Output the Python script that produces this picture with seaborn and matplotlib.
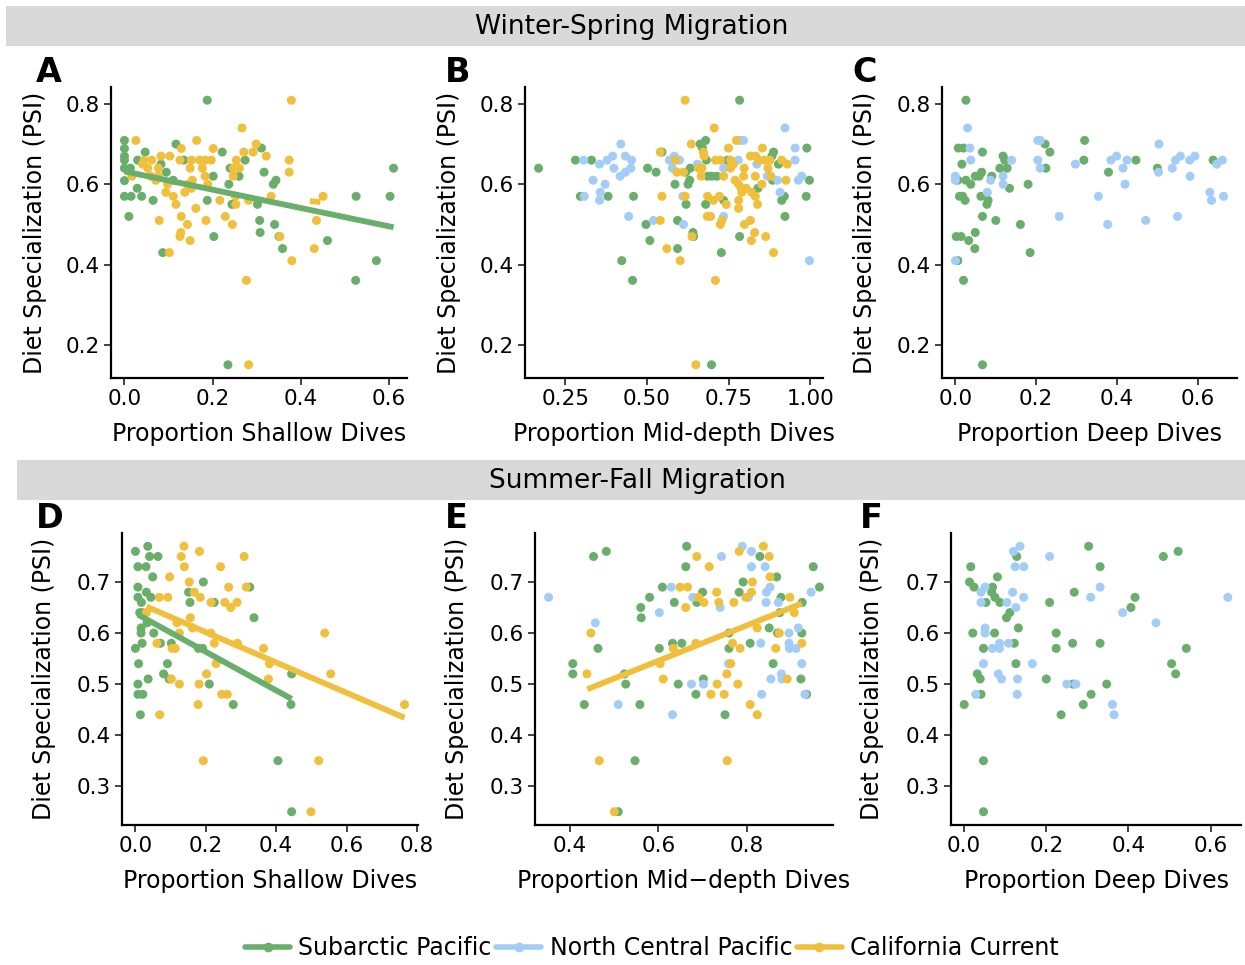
import numpy as np
import pandas as pd
import matplotlib
matplotlib.use("Agg")
import matplotlib.pyplot as plt
from matplotlib.lines import Line2D
from matplotlib.patches import Rectangle
import seaborn as sns

# ---------------- data (x = proportion of dives, y = PSI) ----------------
regions = ["Subarctic Pacific", "North Central Pacific", "California Current"]
colors = ["#6aae6b", "#a3cdf6", "#f0bf3c"]

A_sub = np.array([(0.188,0.809),(0,0.709),(0,0.689),(0,0.670),(0,0.660),(0,0.640),(0.0135,0.640),(0,0.609),(0,0.570),(0.015,0.570),(0.01,0.52),(0.029,0.59),(0.039,0.57),(0.03,0.66),(0.047,0.68),(0.065,0.56),(0.083,0.65),(0.095,0.63),(0.087,0.43),(0.111,0.61),(0.117,0.70),(0.135,0.66),(0.188,0.56),(0.2015,0.62),(0.203,0.47),(0.222,0.68),(0.235,0.151),(0.237,0.60),(0.24,0.64),(0.244,0.55),(0.26,0.62),(0.274,0.66),(0.302,0.55),(0.307,0.51),(0.308,0.48),(0.311,0.69),(0.317,0.63),(0.338,0.60),(0.344,0.61),(0.341,0.50),(0.351,0.47),(0.359,0.44),(0.461,0.46),(0.526,0.57),(0.525,0.361),(0.572,0.41),(0.603,0.57),(0.611,0.64)])
A_cal = np.array([(0.379,0.809),(0.026,0.709),(0.267,0.74),(0.164,0.709),(0.129,0.689),(0.299,0.70),(0.2015,0.689),(0.271,0.68),(0.292,0.68),(0.322,0.67),(0.103,0.67),(0.083,0.67),(0.045,0.66),(0.062,0.66),(0.126,0.66),(0.152,0.66),(0.171,0.66),(0.184,0.66),(0.197,0.66),(0.254,0.66),(0.374,0.66),(0.041,0.65),(0.053,0.64),(0.077,0.64),(0.149,0.64),(0.177,0.64),(0.247,0.64),(0.261,0.64),(0.374,0.63),(0.06,0.62),(0.077,0.62),(0.183,0.62),(0.247,0.62),(0.017,0.62),(0.071,0.61),(0.154,0.61),(0.098,0.60),(0.144,0.60),(0.189,0.60),(0.152,0.59),(0.094,0.58),(0.137,0.58),(0.111,0.57),(0.252,0.57),(0.333,0.57),(0.451,0.57),(0.2165,0.56),(0.282,0.56),(0.117,0.55),(0.162,0.54),(0.253,0.55),(0.129,0.52),(0.229,0.52),(0.079,0.51),(0.185,0.51),(0.436,0.51),(0.143,0.50),(0.245,0.50),(0.128,0.48),(0.126,0.47),(0.149,0.46),(0.353,0.47),(0.102,0.43),(0.431,0.44),(0.380,0.41),(0.277,0.361),(0.282,0.151)])

B_sub = np.array([(0.784,0.809),(0.168,0.64),(0.281,0.66),(0.33,0.66),(0.296,0.57),(0.381,0.57),(0.459,0.57),(0.502,0.64),(0.528,0.63),(0.546,0.68),(0.497,0.50),(0.509,0.46),(0.423,0.41),(0.456,0.361),(0.586,0.60),(0.594,0.51),(0.594,0.44),(0.62,0.55),(0.619,0.63),(0.633,0.64),(0.626,0.60),(0.631,0.61),(0.641,0.48),(0.643,0.47),(0.663,0.70),(0.68,0.709),(0.67,0.69),(0.682,0.66),(0.686,0.62),(0.699,0.62),(0.714,0.62),(0.68,0.55),(0.698,0.151),(0.735,0.56),(0.728,0.43),(0.747,0.66),(0.784,0.47),(0.84,0.59),(0.883,0.67),(0.888,0.68),(0.903,0.65),(0.885,0.61),(0.913,0.56),(0.921,0.57),(0.923,0.52),(0.99,0.69),(0.988,0.57),(0.998,0.61)])
B_nc = np.array([(0.306,0.66),(0.308,0.57),(0.335,0.61),(0.355,0.65),(0.357,0.58),(0.355,0.56),(0.372,0.60),(0.378,0.66),(0.395,0.67),(0.399,0.64),(0.42,0.70),(0.418,0.62),(0.434,0.67),(0.434,0.63),(0.451,0.64),(0.453,0.66),(0.444,0.52),(0.52,0.51),(0.569,0.66),(0.584,0.67),(0.578,0.64),(0.6,0.66),(0.61,0.57),(0.612,0.50),(0.655,0.65),(0.735,0.64),(0.735,0.52),(0.78,0.66),(0.784,0.709),(0.796,0.709),(0.837,0.65),(0.869,0.62),(0.908,0.58),(0.923,0.74),(0.954,0.69),(0.954,0.66),(0.964,0.61),(0.974,0.62),(0.998,0.41),(0.9,0.61)])
B_cal = np.array([(0.617,0.809),(0.706,0.74),(0.636,0.70),(0.541,0.68),(0.673,0.68),(0.675,0.67),(0.587,0.66),(0.71,0.66),(0.725,0.66),(0.756,0.66),(0.765,0.65),(0.75,0.69),(0.774,0.709),(0.817,0.67),(0.833,0.67),(0.842,0.66),(0.86,0.66),(0.854,0.69),(0.877,0.66),(0.913,0.66),(0.93,0.65),(0.592,0.63),(0.612,0.63),(0.658,0.64),(0.669,0.64),(0.756,0.64),(0.798,0.64),(0.871,0.64),(0.666,0.62),(0.735,0.62),(0.796,0.62),(0.832,0.62),(0.88,0.62),(0.77,0.61),(0.781,0.60),(0.789,0.59),(0.804,0.59),(0.852,0.60),(0.926,0.61),(0.821,0.58),(0.832,0.57),(0.791,0.58),(0.546,0.57),(0.617,0.57),(0.686,0.57),(0.704,0.56),(0.722,0.57),(0.781,0.56),(0.743,0.55),(0.781,0.54),(0.839,0.55),(0.685,0.52),(0.695,0.52),(0.541,0.51),(0.73,0.51),(0.725,0.50),(0.817,0.51),(0.799,0.50),(0.83,0.48),(0.82,0.46),(0.864,0.47),(0.638,0.47),(0.561,0.44),(0.602,0.41),(0.888,0.43),(0.71,0.361),(0.65,0.151)])

C_sub = np.array([(0.026,0.809),(0.007,0.69),(0.02,0.69),(0.016,0.65),(0.006,0.61),(0.026,0.61),(0.038,0.60),(0.01,0.57),(0.018,0.57),(0.024,0.56),(0.002,0.47),(0.014,0.47),(0.006,0.41),(0.033,0.46),(0.02,0.361),(0.049,0.48),(0.048,0.44),(0.049,0.62),(0.059,0.62),(0.065,0.63),(0.067,0.68),(0.063,0.57),(0.081,0.56),(0.078,0.55),(0.067,0.52),(0.09,0.62),(0.1,0.51),(0.067,0.151),(0.11,0.64),(0.118,0.67),(0.122,0.66),(0.128,0.64),(0.134,0.59),(0.161,0.50),(0.18,0.60),(0.185,0.43),(0.222,0.70),(0.234,0.68),(0.224,0.64),(0.32,0.709),(0.318,0.66),(0.379,0.63),(0.447,0.66),(0.5,0.64),(0.638,0.66)])
C_nc = np.array([(0.03,0.74),(0.036,0.69),(0.038,0.66),(0,0.62),(0,0.61),(0,0.41),(0.079,0.58),(0.087,0.61),(0.118,0.62),(0.118,0.60),(0.139,0.66),(0.204,0.709),(0.21,0.709),(0.204,0.66),(0.21,0.64),(0.257,0.52),(0.297,0.65),(0.354,0.57),(0.377,0.50),(0.385,0.66),(0.399,0.67),(0.415,0.64),(0.42,0.60),(0.425,0.66),(0.471,0.51),(0.504,0.70),(0.503,0.63),(0.537,0.64),(0.545,0.66),(0.557,0.67),(0.55,0.52),(0.58,0.66),(0.593,0.67),(0.581,0.62),(0.63,0.58),(0.634,0.56),(0.647,0.65),(0.661,0.66),(0.664,0.57)])

D_sub = np.array([(0,0.76),(0.035,0.77),(0.04,0.75),(0.064,0.75),(0.007,0.73),(0.03,0.73),(0.049,0.71),(0.007,0.69),(0.007,0.67),(0.017,0.66),(0.031,0.68),(0.044,0.67),(0.012,0.64),(0.019,0.64),(0.016,0.61),(0.016,0.60),(0.033,0.62),(0.052,0.60),(0.019,0.58),(0,0.57),(0.071,0.58),(0.102,0.58),(0.009,0.54),(0.036,0.51),(0.007,0.50),(0.007,0.48),(0.021,0.48),(0.014,0.44),(0.08,0.52),(0.091,0.54),(0.096,0.51),(0.151,0.68),(0.155,0.66),(0.193,0.70),(0.179,0.57),(0.191,0.57),(0.21,0.50),(0.224,0.66),(0.278,0.46),(0.325,0.69),(0.337,0.63),(0.444,0.52),(0.442,0.46),(0.405,0.35),(0.444,0.25)])
D_cal = np.array([(0.138,0.77),(0.13,0.75),(0.139,0.73),(0.182,0.76),(0.242,0.73),(0.309,0.75),(0.097,0.71),(0.153,0.70),(0.068,0.67),(0.092,0.67),(0.167,0.68),(0.184,0.67),(0.215,0.66),(0.254,0.66),(0.289,0.66),(0.271,0.65),(0.265,0.69),(0.315,0.69),(0.031,0.64),(0.156,0.63),(0.118,0.62),(0.162,0.61),(0.125,0.60),(0.214,0.60),(0.061,0.58),(0.224,0.58),(0.29,0.58),(0.104,0.57),(0.113,0.57),(0.364,0.57),(0.229,0.54),(0.381,0.54),(0.538,0.60),(0.555,0.52),(0.378,0.51),(0.102,0.51),(0.202,0.52),(0.125,0.50),(0.181,0.50),(0.245,0.48),(0.261,0.48),(0.178,0.46),(0.069,0.44),(0.765,0.46),(0.193,0.35),(0.521,0.35),(0.499,0.25)])

E_sub = np.array([(0.453,0.75),(0.482,0.76),(0.406,0.54),(0.406,0.52),(0.432,0.46),(0.463,0.57),(0.523,0.52),(0.526,0.50),(0.558,0.46),(0.56,0.65),(0.561,0.63),(0.58,0.67),(0.547,0.35),(0.509,0.25),(0.602,0.57),(0.609,0.69),(0.636,0.66),(0.632,0.58),(0.653,0.58),(0.645,0.50),(0.662,0.73),(0.664,0.77),(0.687,0.66),(0.70,0.68),(0.702,0.51),(0.685,0.48),(0.751,0.44),(0.76,0.57),(0.76,0.60),(0.783,0.68),(0.792,0.70),(0.808,0.58),(0.83,0.75),(0.851,0.61),(0.868,0.71),(0.87,0.60),(0.86,0.54),(0.878,0.67),(0.875,0.64),(0.926,0.66),(0.925,0.60),(0.923,0.51),(0.936,0.48),(0.951,0.73),(0.965,0.69)])
E_nc = np.array([(0.351,0.67),(0.457,0.62),(0.509,0.46),(0.602,0.64),(0.629,0.69),(0.632,0.44),(0.675,0.50),(0.678,0.67),(0.702,0.50),(0.74,0.65),(0.743,0.75),(0.759,0.54),(0.79,0.77),(0.804,0.67),(0.811,0.76),(0.811,0.73),(0.832,0.58),(0.834,0.48),(0.842,0.73),(0.844,0.66),(0.845,0.68),(0.853,0.69),(0.855,0.51),(0.872,0.66),(0.879,0.52),(0.88,0.51),(0.896,0.60),(0.896,0.58),(0.897,0.57),(0.912,0.57),(0.917,0.61),(0.925,0.54),(0.932,0.48),(0.946,0.68)])
E_cal = np.array([(0.438,0.52),(0.447,0.60),(0.466,0.35),(0.50,0.25),(0.604,0.54),(0.611,0.51),(0.634,0.57),(0.649,0.69),(0.666,0.69),(0.662,0.65),(0.687,0.75),(0.715,0.73),(0.685,0.58),(0.691,0.67),(0.703,0.66),(0.719,0.48),(0.732,0.68),(0.733,0.50),(0.737,0.66),(0.749,0.48),(0.755,0.52),(0.756,0.35),(0.764,0.54),(0.768,0.58),(0.771,0.66),(0.78,0.50),(0.785,0.57),(0.783,0.76),(0.798,0.67),(0.811,0.68),(0.813,0.70),(0.808,0.46),(0.824,0.44),(0.824,0.61),(0.838,0.77),(0.851,0.75),(0.853,0.71),(0.866,0.57),(0.874,0.60),(0.892,0.51),(0.898,0.67),(0.908,0.64),(0.925,0.58)])

F_sub = np.array([(0,0.46),(0.016,0.73),(0.013,0.70),(0.024,0.69),(0.021,0.60),(0.047,0.57),(0.032,0.52),(0.039,0.51),(0.041,0.48),(0.047,0.35),(0.047,0.25),(0.053,0.66),(0.069,0.69),(0.067,0.68),(0.075,0.67),(0.087,0.66),(0.081,0.71),(0.074,0.60),(0.103,0.63),(0.111,0.64),(0.122,0.58),(0.126,0.54),(0.128,0.75),(0.132,0.61),(0.2,0.51),(0.208,0.66),(0.224,0.60),(0.224,0.57),(0.236,0.44),(0.264,0.58),(0.265,0.50),(0.268,0.68),(0.29,0.46),(0.303,0.77),(0.309,0.48),(0.331,0.73),(0.331,0.58),(0.347,0.50),(0.406,0.65),(0.416,0.67),(0.485,0.75),(0.505,0.54),(0.515,0.52),(0.521,0.76),(0.541,0.57)])
F_nc = np.array([(0.028,0.48),(0.041,0.68),(0.041,0.66),(0.051,0.69),(0.051,0.61),(0.051,0.60),(0.047,0.54),(0.069,0.57),(0.086,0.58),(0.086,0.57),(0.083,0.52),(0.091,0.51),(0.104,0.66),(0.108,0.58),(0.118,0.68),(0.12,0.76),(0.124,0.73),(0.126,0.65),(0.13,0.51),(0.129,0.48),(0.136,0.77),(0.145,0.73),(0.145,0.67),(0.166,0.54),(0.208,0.75),(0.25,0.50),(0.272,0.50),(0.308,0.67),(0.331,0.69),(0.361,0.46),(0.365,0.44),(0.386,0.64),(0.467,0.62),(0.642,0.67)])

# fitted lines: (panel, region index, x_start, x_end, y_start, y_end)
fits = [("A", 0, 0.0, 0.611, 0.632, 0.493),
        ("A", 2, 0.421, 0.445, 0.558, 0.556),
        ("D", 0, 0.0075, 0.444, 0.636, 0.471),
        ("D", 2, 0.031, 0.765, 0.652, 0.434),
        ("E", 2, 0.439, 0.925, 0.490, 0.658)]

panels = {
    "A": {0: A_sub, 2: A_cal},
    "B": {0: B_sub, 1: B_nc, 2: B_cal},
    "C": {0: C_sub, 1: C_nc},
    "D": {0: D_sub, 2: D_cal},
    "E": {0: E_sub, 1: E_nc, 2: E_cal},
    "F": {0: F_sub, 1: F_nc},
}
xlabels = {"A": "Proportion Shallow Dives", "B": "Proportion Mid-depth Dives",
           "C": "Proportion Deep Dives", "D": "Proportion Shallow Dives",
           "E": "Proportion Mid\u2212depth Dives", "F": "Proportion Deep Dives"}
xticks = {"A": [0.0, 0.2, 0.4, 0.6], "B": [0.25, 0.50, 0.75, 1.00],
          "C": [0.0, 0.2, 0.4, 0.6], "D": [0.0, 0.2, 0.4, 0.6, 0.8],
          "E": [0.4, 0.6, 0.8], "F": [0.0, 0.2, 0.4, 0.6]}
xfmt = {"A": "%.1f", "B": "%.2f", "C": "%.1f", "D": "%.1f", "E": "%.1f", "F": "%.1f"}
yticks_top = [0.2, 0.4, 0.6, 0.8]
yticks_bot = [0.3, 0.4, 0.5, 0.6, 0.7]
row_titles = ["Winter-Spring Migration", "Summer-Fall Migration"]

# ---------------- figure ----------------
sns.set_theme(style="ticks")
plt.rcParams["font.family"] = ["DejaVu Sans"]
plt.rcParams["text.color"] = "black"
plt.rcParams["axes.labelcolor"] = "black"

W, H = 1245, 965
fig = plt.figure(figsize=(W / 100, H / 100), dpi=100)

# axes boxes in pixels: left, top, right, bottom
boxes = {"A": (111, 87, 407, 378), "B": (525, 87, 823, 378), "C": (942, 87, 1237, 378),
         "D": (122, 533, 418, 825), "E": (535, 533, 833, 825), "F": (951, 533, 1241, 825)}
letter_pos = {"A": (36, 72), "B": (445, 72), "C": (852, 72),
              "D": (36, 518), "E": (445, 518), "F": (860, 518)}
ylab_right = {"A": 47, "B": 461, "C": 877, "D": 56, "E": 469, "F": 884}

def expand(lo, hi):
    r = hi - lo
    return lo - 0.05 * r, hi + 0.05 * r

row_of = {"A": 0, "B": 0, "C": 0, "D": 1, "E": 1, "F": 1}
ylims = []
for row in (0, 1):
    ys = np.concatenate([a[:, 1] for k, d in panels.items() if row_of[k] == row for a in d.values()])
    ylims.append(expand(ys.min(), ys.max()))

for key, groups in panels.items():
    l, t, r, b = boxes[key]
    ax = fig.add_axes([l / W, 1 - b / H, (r - l) / W, (b - t) / H])
    rows = []
    for gi, arr in groups.items():
        for x, y in arr:
            rows.append((x, y, regions[gi]))
    df = pd.DataFrame(rows, columns=["x", "y", "Region"])
    sns.scatterplot(data=df, x="x", y="y", hue="Region",
                    hue_order=[regions[i] for i in sorted(groups)],
                    palette=[colors[i] for i in sorted(groups)],
                    s=42, linewidth=0, alpha=1, legend=False, ax=ax, zorder=2)
    for (pk, gi, x0, x1, y0, y1) in fits:
        if pk == key:
            ldf = pd.DataFrame({"x": [x0, x1], "y": [y0, y1]})
            sns.lineplot(data=ldf, x="x", y="y", color=colors[gi], lw=4.2,
                         ax=ax, zorder=3, solid_capstyle="butt")
    xs = np.concatenate([a[:, 0] for a in groups.values()])
    ax.set_xlim(*expand(xs.min(), xs.max()))
    ax.set_ylim(*ylims[row_of[key]])
    ax.set_xticks(xticks[key])
    ax.set_xticklabels([xfmt[key] % v for v in xticks[key]])
    yt = yticks_top if row_of[key] == 0 else yticks_bot
    ax.set_yticks(yt)
    ax.set_yticklabels(["%.1f" % v for v in yt])
    sns.despine(ax=ax)
    for sp in ("left", "bottom"):
        ax.spines[sp].set_linewidth(1.6)
        ax.spines[sp].set_color("black")
    ax.tick_params(axis="both", length=5, width=1.3, color="#333333",
                   labelsize=15.5, labelcolor="black", pad=3)
    ax.set_xlabel(xlabels[key], fontsize=17, color="black")
    ax.set_ylabel("Diet Specialization (PSI)", fontsize=17, color="black")
    ax.yaxis.set_label_coords((ylab_right[key] - l) / (r - l), 0.5)
    ax.xaxis.set_label_coords(0.5, -44 / (b - t))
    ax.set_facecolor("white")
    lx, ly = letter_pos[key]
    fig.text(lx / W, 1 - ly / H, key, fontsize=24, fontweight="bold",
             ha="left", va="center")

# strip headers
for (x0, y0, x1, y1), title in zip([(6, 6, 1245, 46), (17, 460, 1245, 500)], row_titles):
    fig.patches.append(Rectangle((x0 / W, 1 - y1 / H), (x1 - x0) / W, (y1 - y0) / H,
                                 transform=fig.transFigure, facecolor="#d9d9d9",
                                 edgecolor="none", zorder=0))
    fig.text(((x0 + x1) / 2 + 6) / W, 1 - ((y0 + y1) / 2 + 1) / H, title, fontsize=19,
             ha="center", va="center")

handles = [Line2D([0], [0], color=c, lw=4, marker="o", markersize=6) for c in colors]
fig.legend(handles, regions, loc="center", bbox_to_anchor=(652 / W, 1 - 948 / H),
           ncol=3, frameon=False, fontsize=17, handlelength=1.9,
           handletextpad=0.35, columnspacing=0.2)

fig.savefig("out.png", dpi=100)
